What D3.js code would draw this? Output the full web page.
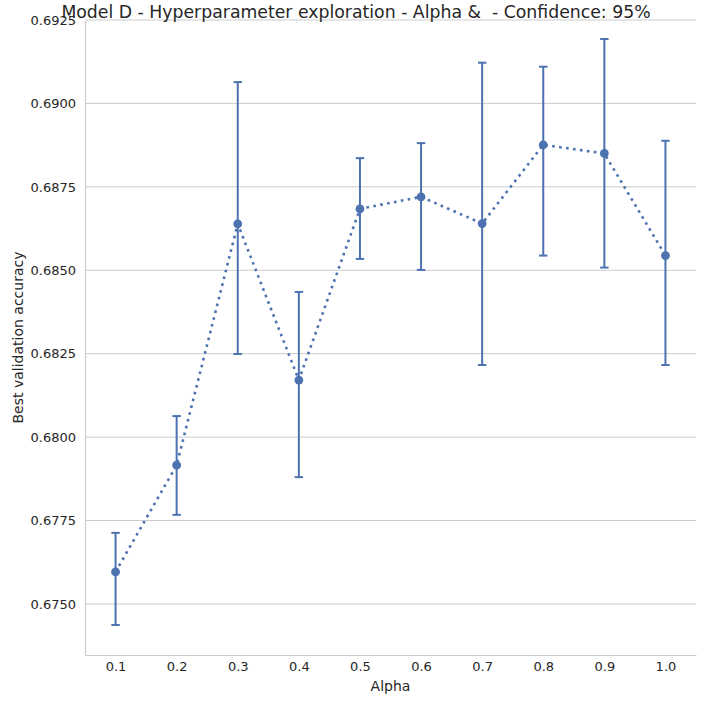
<!DOCTYPE html>
<html>
<head>
<meta charset="utf-8">
<script src="https://cdn.jsdelivr.net/npm/d3@7"></script>
<style>
  body { margin: 0; background: #fff; }
  text { font-family: "DejaVu Sans", sans-serif; fill: #262626; }
</style>
</head>
<body>
<svg id="chart" width="722" height="704"></svg>
<script>
'use strict';

// values
var alphas = [0.1, 0.2, 0.3, 0.4, 0.5, 0.6, 0.7, 0.8, 0.9, 1.0];
var means  = [0.67596, 0.67916, 0.68639, 0.68171, 0.68684, 0.68720, 0.68640, 0.68876, 0.68850, 0.68544];
var uppers = [0.67713, 0.68063, 0.69064, 0.68435, 0.68836, 0.68881, 0.69122, 0.69110, 0.69193, 0.68888];
var lowers = [0.67437, 0.67767, 0.68249, 0.67880, 0.68534, 0.68501, 0.68216, 0.68544, 0.68508, 0.68216];
var yTicks = [0.6750, 0.6775, 0.6800, 0.6825, 0.6850, 0.6875, 0.6900, 0.6925];
var xTicks = [0.1, 0.2, 0.3, 0.4, 0.5, 0.6, 0.7, 0.8, 0.9, 1.0];

var blue = '#4c72b0';
var grid = '#cccccc';

var svg = d3.select('#chart');
var plotLeft = 85, plotRight = 696, plotTop = 20, plotBottom = 655;

var x = d3.scaleLinear().domain([0.05, 1.05]).range([plotLeft, plotRight]);
var y = d3.scaleLinear().domain([0.67347, 0.6925]).range([plotBottom, plotTop]);

//grid lines
svg.append('g').selectAll('line').data(yTicks).enter().append('line')
  .attr('x1', plotLeft).attr('x2', plotRight)
  .attr('y1', function(d) { return y(d); })
  .attr('y2', function(d) { return y(d); })
  .attr('stroke', grid).attr('stroke-width', 1);

//axes
var yAxis = svg.append('g').attr('transform', 'translate(' + plotLeft + ',0)')
  .call(d3.axisLeft(y).tickValues(yTicks).tickFormat(d3.format('.4f')).tickSize(0).tickPadding(9));
var xAxis = svg.append('g').attr('transform', 'translate(0,' + plotBottom + ')')
  .call(d3.axisBottom(x).tickValues(xTicks).tickFormat(d3.format('.1f')).tickSize(0).tickPadding(7));
[yAxis, xAxis].forEach(function(a) {
  a.select('.domain').attr('stroke', grid).attr('stroke-width', 1.2);
  a.selectAll('text').style('font-size', '13px').attr('fill', '#262626');
});

//dotted line through the means
var line = d3.line()
  .x(function(d, i) { return x(alphas[i]); })
  .y(function(d) { return y(d); });
svg.append('path').datum(means)
  .attr('d', line)
  .attr('fill', 'none')
  .attr('stroke', blue)
  .attr('stroke-width', 2.6)
  .attr('stroke-dasharray', '2.6,4.4');

//error bars
var bars = svg.append('g').selectAll('g').data(alphas).enter().append('g');
bars.append('line')
  .attr('x1', function(d) { return x(d); }).attr('x2', function(d) { return x(d); })
  .attr('y1', function(d, i) { return y(lowers[i]); })
  .attr('y2', function(d, i) { return y(uppers[i]); })
  .attr('stroke', blue).attr('stroke-width', 2);
bars.append('line')
  .attr('x1', function(d) { return x(d) - 4.2; }).attr('x2', function(d) { return x(d) + 4.2; })
  .attr('y1', function(d, i) { return y(uppers[i]); })
  .attr('y2', function(d, i) { return y(uppers[i]); })
  .attr('stroke', blue).attr('stroke-width', 2);
bars.append('line')
  .attr('x1', function(d) { return x(d) - 4.2; }).attr('x2', function(d) { return x(d) + 4.2; })
  .attr('y1', function(d, i) { return y(lowers[i]); })
  .attr('y2', function(d, i) { return y(lowers[i]); })
  .attr('stroke', blue).attr('stroke-width', 2);

//markers
svg.append('g').selectAll('circle').data(means).enter().append('circle')
  .attr('cx', function(d, i) { return x(alphas[i]); })
  .attr('cy', function(d) { return y(d); })
  .attr('r', 4.4)
  .attr('fill', blue);

//labels
svg.append('text').attr('x', 356).attr('y', 18)
  .attr('text-anchor', 'middle').style('font-size', '17.3px')
  .style('white-space', 'pre').attr('xml:space', 'preserve')
  .text('Model D - Hyperparameter exploration - Alpha &  - Confidence: 95%');
svg.append('text').attr('x', (plotLeft + plotRight) / 2).attr('y', 691)
  .attr('text-anchor', 'middle').style('font-size', '14px')
  .text('Alpha');
svg.append('text')
  .attr('transform', 'translate(23,' + ((plotTop + plotBottom) / 2) + ') rotate(-90)')
  .attr('text-anchor', 'middle').style('font-size', '14px')
  .text('Best validation accuracy');
</script>
</body>
</html>
